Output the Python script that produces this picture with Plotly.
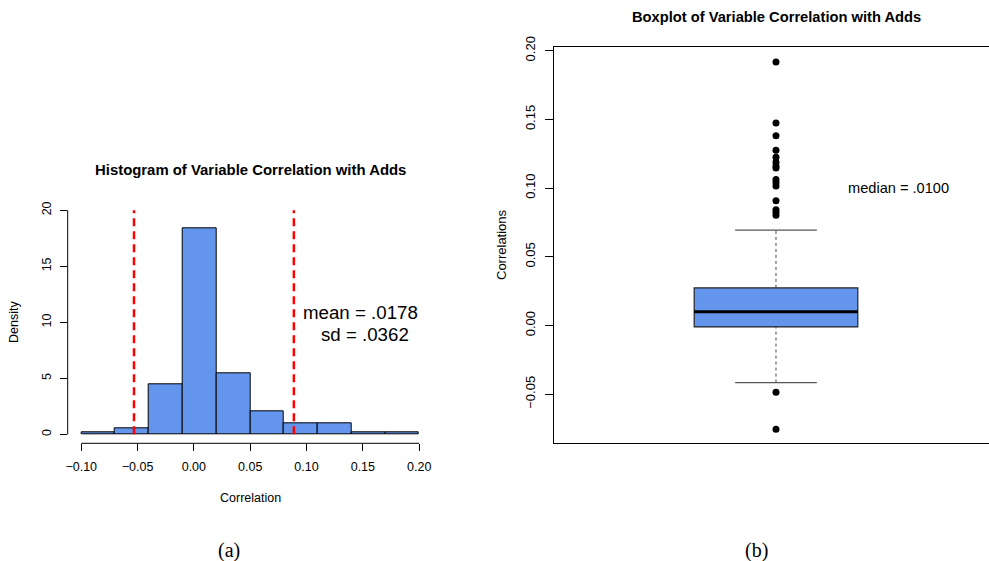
import plotly.graph_objects as go

W, H = 989, 561

# ---------------- data ----------------
bin_edges = [-0.10, -0.07, -0.04, -0.01, 0.02, 0.05, 0.08, 0.11, 0.14, 0.17, 0.20]
density = [0.14, 0.56, 4.48, 18.35, 5.46, 2.10, 0.98, 0.98, 0.14, 0.14]
mean_val = 0.0178
sd_val = 0.0362
hist_xticks = [-0.10, -0.05, 0.00, 0.05, 0.10, 0.15, 0.20]
hist_xticktext = ["\u22120.10", "\u22120.05", "0.00", "0.05", "0.10", "0.15", "0.20"]
hist_yticks = [0, 5, 10, 15, 20]

box_q1 = -0.0010
box_median = 0.0100
box_q3 = 0.0274
box_lower = -0.0415
box_upper = 0.0694
outliers = [0.1918, 0.1473, 0.1381, 0.1275, 0.1224, 0.1189, 0.1160, 0.1146,
            0.1062, 0.1040, 0.1015, 0.0908, 0.0843, 0.0825, 0.0803,
            -0.0486, -0.0755]
box_yticks = [-0.05, 0.00, 0.05, 0.10, 0.15, 0.20]
box_yticktext = ["\u22120.05", "0.00", "0.05", "0.10", "0.15", "0.20"]

# ---------------- helpers ----------------
def px(x):
    return x / W

def py(y):
    return 1 - y / H

FONT = "Liberation Sans, Arial, sans-serif"
BLUE = "#6495ED"

bin_centers = [(bin_edges[i] + bin_edges[i + 1]) / 2 for i in range(len(density))]
bin_widths = [bin_edges[i + 1] - bin_edges[i] for i in range(len(density))]

fig = go.Figure()

# Histogram bars
fig.add_trace(go.Bar(
    x=bin_centers, y=density, width=bin_widths,
    marker=dict(color=BLUE, line=dict(color="black", width=1)),
    xaxis="x", yaxis="y", showlegend=False, hoverinfo="skip"))

# Red dashed lines at mean +/- 1.96 sd
for v in (mean_val - 1.96 * sd_val, mean_val + 1.96 * sd_val):
    fig.add_trace(go.Scatter(
        x=[v, v], y=[0, 20], mode="lines",
        line=dict(color="#FF0000", width=2.5, dash="8px,5px"),
        xaxis="x", yaxis="y", showlegend=False, hoverinfo="skip"))

# Boxplot box (no whiskers from plotly)
fig.add_trace(go.Box(
    x=[1], q1=[box_q1], median=[box_median], q3=[box_q3],
    lowerfence=[box_q1], upperfence=[box_q3],
    width=0.369, fillcolor=BLUE, line=dict(color="#222222", width=1.2),
    boxpoints=False, xaxis="x2", yaxis="y2", showlegend=False, hoverinfo="skip"))

# whiskers (dashed)
for a, b in ((box_q3, box_upper), (box_lower, box_q1)):
    fig.add_trace(go.Scatter(
        x=[1, 1], y=[a, b], mode="lines",
        line=dict(color="#444444", width=1, dash="3px,3px"),
        xaxis="x2", yaxis="y2", showlegend=False, hoverinfo="skip"))
# caps
for v in (box_lower, box_upper):
    fig.add_trace(go.Scatter(
        x=[1 - 0.0921, 1 + 0.0921], y=[v, v], mode="lines",
        line=dict(color="#555555", width=1.3),
        xaxis="x2", yaxis="y2", showlegend=False, hoverinfo="skip"))
# median (thick)
fig.add_trace(go.Scatter(
    x=[1 - 0.1846, 1 + 0.1846], y=[box_median, box_median], mode="lines",
    line=dict(color="black", width=3),
    xaxis="x2", yaxis="y2", showlegend=False, hoverinfo="skip"))
# outliers
fig.add_trace(go.Scatter(
    x=[1] * len(outliers), y=outliers, mode="markers",
    marker=dict(color="black", size=7),
    xaxis="x2", yaxis="y2", showlegend=False, hoverinfo="skip"))

tickfont = dict(family=FONT, size=12.5, color="black")

fig.update_layout(
    width=W, height=H, autosize=False,
    margin=dict(l=0, r=0, t=0, b=0, pad=0, autoexpand=False),
    paper_bgcolor="white", plot_bgcolor="white",
    bargap=0,
    xaxis=dict(domain=[px(67.7), px(432.7)], range=[-0.112, 0.212],
               tickvals=hist_xticks, ticktext=hist_xticktext,
               ticks="outside", ticklen=7, tickcolor="black", tickwidth=1,
               showline=False, showgrid=False, zeroline=False,
               tickfont=tickfont, ticklabelstandoff=5, anchor="y"),
    yaxis=dict(domain=[py(443.3), py(201.3)], range=[-0.8, 20.8],
               tickvals=hist_yticks, ticktext=[str(t) for t in hist_yticks],
               tickangle=-90,
               ticks="outside", ticklen=7, tickcolor="black", tickwidth=1,
               showline=False, showgrid=False, zeroline=False,
               tickfont=tickfont, ticklabelstandoff=4, anchor="x"),
    xaxis2=dict(domain=[px(554.3), 1.0], range=[0.5, 1.4804],
                showticklabels=False, ticks="",
                showline=True, mirror=True, linecolor="black", linewidth=1,
                showgrid=False, zeroline=False, anchor="y2"),
    yaxis2=dict(domain=[py(443.3), py(46.7)], range=[-0.0857, 0.2029],
                tickvals=box_yticks, ticktext=box_yticktext, tickangle=-90,
                ticks="outside", ticklen=8, tickcolor="black", tickwidth=1,
                showline=True, mirror=False, linecolor="black", linewidth=1,
                showgrid=False, zeroline=False,
                tickfont=dict(family=FONT, size=13, color="black"),
                ticklabelstandoff=5, anchor="x2"),
)

# Histogram axis lines (R style: only across tick range)
fig.add_shape(type="line", xref="x", yref="paper",
              x0=hist_xticks[0], x1=hist_xticks[-1], y0=py(443.3), y1=py(443.3),
              line=dict(color="black", width=1))
fig.add_shape(type="line", xref="paper", yref="y",
              x0=px(67.7), x1=px(67.7), y0=hist_yticks[0], y1=hist_yticks[-1],
              line=dict(color="black", width=1))

def ann(text, x, y, size, bold=False, angle=0, family=FONT):
    fig.add_annotation(
        text=("<b>%s</b>" % text) if bold else text,
        x=px(x), y=py(y), xref="paper", yref="paper",
        xanchor="center", yanchor="middle", showarrow=False,
        textangle=angle, font=dict(family=family, size=size, color="black"))

ann("Histogram of Variable Correlation with Adds", 250, 170, 14.9, bold=True)
ann("Density", 14, 322, 12.5, angle=-90)
ann("Correlation", 250, 497.5, 12.5)
ann("mean = .0178", 360, 312, 18.7)
ann("sd = .0362", 365, 334, 18.7)

ann("Boxplot of Variable Correlation with Adds", 776, 16.7, 14.7, bold=True)
ann("Correlations", 501, 245, 13, angle=-90)
ann("median = .0100", 898, 188, 14.6)

ann("(a)", 229, 550, 20, family="Liberation Serif, DejaVu Serif, serif")
ann("(b)", 756, 550, 20, family="Liberation Serif, DejaVu Serif, serif")

fig.write_html("out.html")
